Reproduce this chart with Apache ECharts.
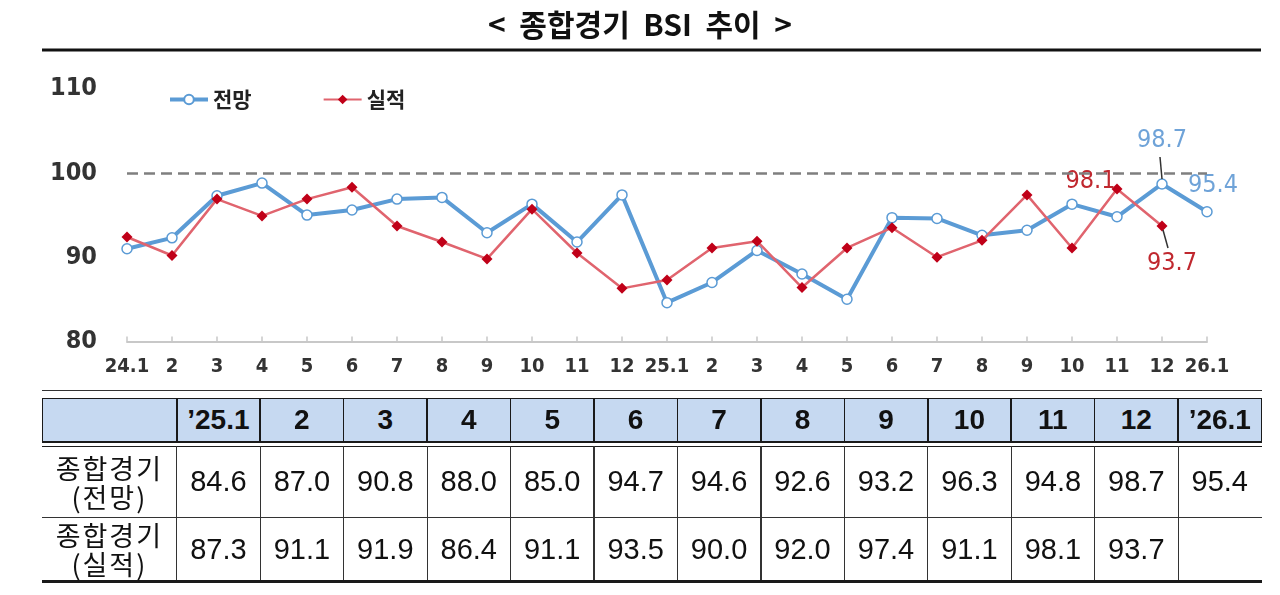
<!DOCTYPE html>
<html><head><meta charset="utf-8">
<script src="https://cdn.jsdelivr.net/npm/echarts@6/dist/echarts.min.js"></script>
<style>
html,body{margin:0;padding:0;background:#fff;width:1280px;height:595px;overflow:hidden;}
#chart{position:absolute;left:0;top:0;width:1280px;height:595px;}
#table{position:absolute;left:0;top:0;width:1280px;height:595px;pointer-events:none;}
.ln{position:absolute;background:#1a1a1a;}
.cell{position:absolute;display:flex;flex-direction:column;align-items:center;justify-content:center;text-align:center;color:#111;}
</style></head><body>
<div id="chart"></div><div id="table"></div>
<script>
// ---- data ----
const categories = ['24.1','2','3','4','5','6','7','8','9','10','11','12',
                    '25.1','2','3','4','5','6','7','8','9','10','11','12','26.1'];
const outlook = [91.0, 92.3, 97.3, 98.8, 95.0, 95.6, 96.9, 97.1, 92.9, 96.3, 91.8, 97.4,
                 84.6, 87.0, 90.8, 88.0, 85.0, 94.7, 94.6, 92.6, 93.2, 96.3, 94.8, 98.7, 95.4];
const actual  = [92.4, 90.2, 96.9, 94.9, 96.9, 98.3, 93.7, 91.8, 89.8, 95.7, 90.5, 86.3,
                 87.3, 91.1, 91.9, 86.4, 91.1, 93.5, 90.0, 92.0, 97.4, 91.1, 98.1, 93.7, null];
const yTicks = [80, 90, 100, 110];
const referenceLevel = 100;
const seriesNames = ['전망', '실적'];
const titleText = '<\u00a0\u00a0종합경기\u00a0\u00a0BSI\u00a0\u00a0추이\u00a0\u00a0>';
const tableHeaders = ['’25.1','2','3','4','5','6','7','8','9','10','11','12','’26.1'];
const tableRowLabels = [['종합경기','(전망)'], ['종합경기','(실적)']];
const tableOutlook = outlook.slice(12);
const tableActual = actual.slice(12);

// ---- chart ----
const narrow = "'Liberation Sans Narrow','DejaVu Sans Condensed','Liberation Sans',sans-serif";
const kr = "'Noto Sans CJK KR',sans-serif";
const BLUE = '#5b9bd5', BLUE_LBL = '#6fa3d8', RED_LINE = '#e0646e', RED_PT = '#c00018', RED_LBL = '#c0282f';

const outlookData = outlook.map((v, i) => {
  if (i === 23) return {value: v, label: {show: true, position: 'top', distance: 25, color: BLUE_LBL, fontSize: 25, fontFamily: narrow, formatter: v.toFixed(1)}};
  if (i === 24) return {value: v, label: {show: true, position: 'top', distance: 8, offset: [6, 0], color: BLUE_LBL, fontSize: 25, fontFamily: narrow, formatter: v.toFixed(1)}};
  return v;
});
const actualData = actual.map((v, i) => {
  if (i === 22) return {value: v, label: {show: true, position: 'left', distance: 4, offset: [8, -7], color: RED_LBL, fontSize: 25, fontFamily: narrow, formatter: v.toFixed(1)}};
  if (i === 23) return {value: v, label: {show: true, position: 'bottom', distance: 19, offset: [10, 0], color: RED_LBL, fontSize: 25, fontFamily: narrow, formatter: v.toFixed(1)}};
  return v;
});

const chart = echarts.init(document.getElementById('chart'), null, {renderer: 'canvas'});
chart.setOption({
  animation: false,
  backgroundColor: '#fff',
  title: {text: titleText, left: 'center', top: 5,
    textStyle: {fontSize: 30, fontWeight: 'bold', color: '#111', fontFamily: kr}},
  legend: {left: 163, top: 84, itemWidth: 38, itemHeight: 12, itemGap: 71,
    data: [{name: seriesNames[0], lineStyle: {width: 4}}, {name: seriesNames[1]}],
    textStyle: {fontSize: 21, fontWeight: 'bold', color: '#222', fontFamily: kr}},
  grid: {left: 127, right: 73, top: 88.8, bottom: 253.6, containLabel: false, outerBoundsMode: 'none'},
  xAxis: {type: 'category', data: categories, boundaryGap: false,
    axisLine: {lineStyle: {color: '#c8c8c8', width: 2}},
    axisTick: {show: true, inside: true, length: 5, alignWithLabel: true, lineStyle: {color: '#c8c8c8', width: 1.5}},
    axisLabel: {interval: 0, margin: 15, fontSize: 20, color: '#333', fontFamily: narrow, fontWeight: 'bold'}},
  yAxis: {type: 'value', min: yTicks[0], max: yTicks[yTicks.length - 1], interval: yTicks[1] - yTicks[0],
    axisLine: {show: false}, axisTick: {show: false}, splitLine: {show: false},
    axisLabel: {margin: 30, fontSize: 25, color: '#333', fontFamily: narrow, fontWeight: 'bold'}},
  series: [
    {name: seriesNames[0], type: 'line', data: outlookData, z: 2,
     symbol: 'circle', symbolSize: 10, showAllSymbol: true,
     lineStyle: {color: BLUE, width: 4},
     itemStyle: {color: '#fff', borderColor: BLUE, borderWidth: 1.5},
     markLine: {silent: true, symbol: 'none', label: {show: false},
       lineStyle: {color: '#7f7f7f', type: [11, 6], width: 2.5},
       data: [{yAxis: referenceLevel}]}},
    {name: seriesNames[1], type: 'line', data: actualData, z: 3,
     symbol: 'diamond', symbolSize: 11, showAllSymbol: true,
     lineStyle: {color: RED_LINE, width: 2.5},
     itemStyle: {color: RED_PT}}
  ]
});

// leader lines from points to labels
const pb = chart.convertToPixel({gridIndex: 0}, [23, outlook[23]]);
const pr = chart.convertToPixel({gridIndex: 0}, [23, actual[23]]);
chart.setOption({graphic: [
  {type: 'rect', shape: {x: 42, y: 48.5, width: 1219, height: 3}, style: {fill: '#111'}},
  {type: 'line', shape: {x1: pb[0], y1: pb[1] - 5, x2: pb[0] - 2, y2: pb[1] - 27}, style: {stroke: '#333', lineWidth: 1.5}, z: 10},
  {type: 'line', shape: {x1: pr[0] + 1, y1: pr[1] + 4, x2: pr[0] + 6, y2: pr[1] + 22}, style: {stroke: '#333', lineWidth: 1.5}, z: 10}
]});

// ---- table ----
const T = document.getElementById('table');
function ln(x, y, w, h, c) { const d = document.createElement('div'); d.className = 'ln';
  d.style.left = x + 'px'; d.style.top = y + 'px'; d.style.width = w + 'px'; d.style.height = h + 'px';
  if (c) d.style.background = c; T.appendChild(d); }
function cell(x, y, w, h, html, css) { const d = document.createElement('div'); d.className = 'cell';
  d.style.left = x + 'px'; d.style.top = y + 'px'; d.style.width = w + 'px'; d.style.height = h + 'px';
  d.innerHTML = html; Object.assign(d.style, css || {}); T.appendChild(d); }
const x0 = 42, x1 = 1261.5, c0 = 176.7, cw = (x1 - c0) / tableHeaders.length;
const hT = 398, hB = 442, r1T = 446, r1B = 517, r2B = 581.5;
const hf = document.createElement('div'); hf.style.cssText = `position:absolute;left:${x0}px;top:${hT}px;width:${x1-x0}px;height:${hB-hT}px;background:#c6d9f1;`; T.appendChild(hf);
ln(x0, 389.5, x1 - x0, 1.5, '#333');
ln(x0, hT - 0.5, x1 - x0, 1.5); ln(x0, hB - 1, x1 - x0, 1.5);
ln(x0 - 0.5, hT, 1.5, hB - hT); ln(x1 - 1, hT, 1.5, hB - hT);
ln(x0, r1T - 0.5, x1 - x0, 1.5);
ln(x0, r1B - 0.5, x1 - x0, 1, '#333');
ln(x0, r2B - 1.5, x1 - x0, 3);
for (let k = 0; k < tableHeaders.length; k++) {
  const xx = c0 + k * cw;
  ln(xx - 0.7, hT, 1.5, hB - hT);
  ln(xx - 0.5, r1T, 1.2, r2B - r1T - 1.5, '#333');
  cell(xx, hT, cw, hB - hT, tableHeaders[k], {fontFamily: "'Liberation Sans',Arial,sans-serif", fontWeight: 'bold', fontSize: '28px'});
  const vo = tableOutlook[k], va = tableActual[k];
  cell(xx, r1T, cw, r1B - r1T, vo == null ? '' : vo.toFixed(1), {fontFamily: "'Liberation Sans',Arial,sans-serif", fontSize: '29px'});
  cell(xx, r1B, cw, r2B - r1B, va == null ? '' : va.toFixed(1), {fontFamily: "'Liberation Sans',Arial,sans-serif", fontSize: '29px'});
}
const rowBounds = [[r1T, r1B], [r1B, r2B]];
tableRowLabels.forEach((lab, i) => {
  cell(x0, rowBounds[i][0], c0 - x0, rowBounds[i][1] - rowBounds[i][0],
    lab.map(s => `<div>${s}</div>`).join(''),
    {fontFamily: kr, fontSize: '27px', lineHeight: '29px', letterSpacing: '2px'});
});
</script>
</body></html>
